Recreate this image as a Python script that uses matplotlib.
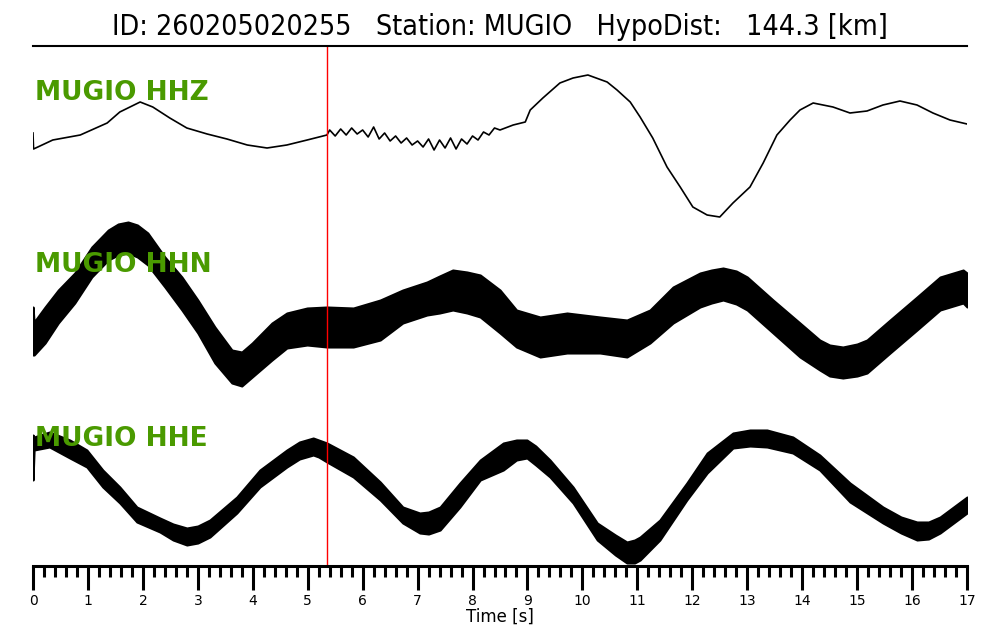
#!/usr/bin/env python3
"""
Three-component waveform plot for station MUGIO (HHZ / HHN / HHE).
Figure: out.png
"""
import matplotlib
matplotlib.use("Agg")
import matplotlib.pyplot as plt
from matplotlib.ticker import MultipleLocator

TITLE = "ID: 260205020255   Station: MUGIO   HypoDist:   144.3 [km]"
STATION = "MUGIO"
CHANNELS = ["HHZ", "HHN", "HHE"]
PICK_TIME = 5.35  # s, red marker

# HHZ: thin trace (relative amplitude, up positive)
t_z = [0.00, 0.01, 0.36, 0.86, 1.35, 1.58, 1.95, 2.18, 2.49, 2.80, 3.17, 3.53, 3.90,
       4.26, 4.62, 4.99, 5.35,
       5.4, 5.5, 5.6, 5.7, 5.8, 5.9, 6.0, 6.1, 6.2, 6.3, 6.4, 6.5, 6.6, 6.7, 6.8, 6.9,
       7.0, 7.1, 7.2, 7.3, 7.4, 7.5, 7.6, 7.7, 7.8, 7.9, 8.0, 8.1, 8.2, 8.3, 8.4, 8.5,
       8.74, 8.96, 9.05, 9.28, 9.59, 9.83, 10.1, 10.45, 10.63, 10.87, 11.05, 11.28,
       11.54, 11.78, 12.01, 12.27, 12.5, 12.74, 13.05, 13.29, 13.54, 13.78, 13.96,
       14.2, 14.56, 14.87, 15.18, 15.47, 15.78, 16.09, 16.38, 16.69, 17.0]
hhz = [12, -4, 5, 10, 22, 33, 43, 38, 27, 17, 11, 6, 0, -3, 0, 5, 10,
       15, 9, 16, 10, 17, 11, 15, 8, 18, 6, 12, 4, 9, 2, 7, 0,
       4, -2, 6, -5, 5, -3, 7, -4, 6, 1, 9, 5, 13, 10, 17, 15,
       20, 23, 35, 47, 62, 67, 70, 63, 55, 43, 28, 7,
       -22, -42, -62, -70, -72, -58, -42, -18, 10, 25, 35,
       42, 38, 32, 34, 40, 44, 40, 32, 25, 21]

# HHN: noisy band, upper / lower envelope
t_n = [0.00, 0.02, 0.22, 0.46, 0.76, 1.07, 1.37, 1.55, 1.73, 1.90, 2.09, 2.40, 2.71,
       3.00, 3.31, 3.62, 3.80, 3.99, 4.35, 4.62, 4.99, 5.35, 5.83, 6.32, 6.73, 7.17,
       7.40, 7.64, 7.90, 8.14, 8.50, 8.80, 9.23, 9.72, 10.32, 10.81, 11.23, 11.65,
       12.14, 12.35, 12.56, 12.80, 13.00, 13.47, 13.96, 14.32, 14.50, 14.74, 15.00,
       15.18, 15.60, 16.09, 16.51, 16.93, 17.00]
hhn_hi = [-2, -17, -2, 15, 32, 58, 75, 81, 83, 80, 72, 48, 28,
          5, -22, -45, -47, -38, -18, -8, -3, -2, -3, 5, 15, 23,
          29, 35, 33, 30, 15, -5, -12, -8, -12, -15, -5, 18,
          32, 35, 37, 34, 28, 5, -18, -35, -40, -42, -39,
          -35, -15, 8, 28, 35, 32]
hhn_lo = [-50, -50, -38, -18, 2, 28, 45, 50, 52, 48, 40, 18, -5,
          -28, -58, -78, -81, -72, -55, -43, -40, -42, -42, -35, -18, -10,
          -8, -5, -8, -12, -28, -42, -52, -48, -48, -52, -38, -18,
          -2, 2, 5, 1, -5, -28, -52, -65, -71, -73, -71,
          -68, -48, -25, -5, 2, -2]

# HHE: noisy band, upper / lower envelope
t_e = [0.00, 0.02, 0.30, 0.67, 0.98, 1.27, 1.58, 1.89, 2.31, 2.55, 2.80, 3.00, 3.22,
       3.71, 4.13, 4.62, 4.85, 5.10, 5.20, 5.35, 5.83, 6.32, 6.73, 7.04, 7.20, 7.41,
       7.77, 8.14, 8.56, 8.80, 8.99, 9.15, 9.41, 9.83, 10.27, 10.60, 10.81, 10.95,
       11.05, 11.41, 11.90, 12.27, 12.74, 13.05, 13.36, 13.83, 14.32, 14.87, 15.47,
       15.80, 16.09, 16.30, 16.51, 17.00]
hhe_hi = [60, 58, 63, 55, 45, 25, 8, -12, -23, -29, -33, -31, -25,
          -2, 25, 45, 53, 57, 55, 52, 38, 13, -12, -18, -17, -12,
          12, 35, 52, 55, 55, 49, 35, 8, -28, -40, -47, -45,
          -42, -25, 12, 42, 62, 65, 65, 58, 40, 12, -12,
          -22, -27, -27, -22, -2]
hhe_lo = [15, 45, 48, 37, 28, 8, -8, -27, -37, -45, -50, -48, -42,
          -18, 8, 28, 36, 40, 38, 33, 18, -5, -28, -38, -39, -35,
          -12, 15, 25, 35, 37, 30, 18, -8, -45, -60, -68, -68,
          -65, -45, -5, 22, 47, 49, 48, 42, 25, -7, -28,
          -38, -45, -44, -38, -18]

TIME_TICKS = list(range(0, 18))


def main():
    fig = plt.figure(figsize=(10, 6.4), dpi=100)
    ax = fig.add_axes([0.033, 74 / 640, 0.934, 520 / 640])

    offsets = [0, -160, -350]
    green = "#4a9a00"

    ax.plot(t_z, [v + offsets[0] for v in hhz], color="black", lw=1.2)
    ax.fill_between(t_n, [v + offsets[1] for v in hhn_lo], [v + offsets[1] for v in hhn_hi],
                    facecolor="black", edgecolor="black", lw=1.5)
    ax.fill_between(t_e, [v + offsets[2] for v in hhe_lo], [v + offsets[2] for v in hhe_hi],
                    facecolor="black", edgecolor="black", lw=1.5)

    label_y = [0.91, 0.578, 0.245]
    for ch, ly in zip(CHANNELS, label_y):
        ax.text(0.002, ly, f"{STATION} {ch}", transform=ax.transAxes, color=green,
                fontsize=19, fontweight="bold", va="center", ha="left", zorder=5)

    ax.axvline(PICK_TIME, color="red", lw=1.0)

    ax.set_xlim(0, 17)
    ax.set_ylim(-421, 99)
    for side in ["left", "right"]:
        ax.spines[side].set_visible(False)
    ax.spines["top"].set_linewidth(1.5)
    ax.spines["bottom"].set_linewidth(2.2)
    ax.set_yticks([])
    ax.set_xticks(TIME_TICKS)
    ax.xaxis.set_minor_locator(MultipleLocator(0.2))
    ax.tick_params(axis="x", which="major", direction="out", length=17, width=2.2,
                   labelsize=10, pad=3)
    ax.tick_params(axis="x", which="minor", direction="out", length=8, width=2.2)
    ax.set_xlabel("Time [s]", fontsize=12, labelpad=0)

    fig.text(0.5, 1 - 27 / 640, TITLE, ha="center", va="center", fontsize=20.5,
             fontstretch="condensed")

    fig.savefig("out.png", dpi=100)


if __name__ == "__main__":
    main()
